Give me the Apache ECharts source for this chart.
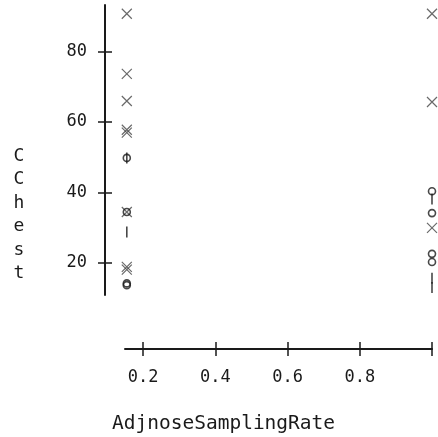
<!DOCTYPE html>
<html>
<head>
<meta charset="utf-8">
<script src="https://cdn.jsdelivr.net/npm/echarts@6/dist/echarts.min.js"></script>
<style>html,body{margin:0;padding:0;background:#fff}#c{width:438px;height:437px}</style>
</head>
<body>
<div id="c"></div>
<script>
// Marker positions (x = AdjnoseSamplingRate, y = CChest)
const crossX = [0.155, 0.155, 0.155, 0.155, 0.155, 0.155, 0.155, 0.155, 1.0, 1.0, 1.0];
const crossY = [90.8, 73.7, 66.0, 57.8, 57.0, 34.4, 18.8, 18.0, 90.8, 65.7, 29.9];
const circleX = [0.155, 0.155, 0.155, 0.155, 1.0, 1.0, 1.0, 1.0];
const circleY = [49.8, 34.4, 14.1, 13.6, 40.3, 34.1, 22.5, 20.2];
const barX = [0.155, 0.155, 1.0, 1.0, 1.0];
const barY = [49.8, 28.7, 38.1, 15.6, 12.9];
const xTicks = [0.2, 0.4, 0.6, 0.8, 1.0];
const xTickLabels = [0.2, 0.4, 0.6, 0.8];
const yTicks = [20, 40, 60, 80];
const xName = 'AdjnoseSamplingRate';
const yName = 'CChest';

const zip = (a, b) => a.map((v, i) => [v, b[i]]);
const INK = '#1a1a1a';
const MONO = '"DejaVu Sans Mono", "Liberation Mono", monospace';

const xRange = { min: 0.15, max: 1.0 };
const yRange = { min: 10.8, max: 93.3 };

function xAx(inside, main) {
  return {
    type: 'value', position: 'bottom', offset: 54, ...xRange,
    axisLine: { show: main, lineStyle: { color: INK, width: 2 } },
    axisTick: { show: true, inside: inside, length: 7, customValues: xTicks, lineStyle: { color: INK, width: 1.5 } },
    axisLabel: { show: main, customValues: xTickLabels, margin: 20, color: INK, fontFamily: MONO, fontSize: 17,
      formatter: v => v.toFixed(1) },
    splitLine: { show: false }
  };
}
function yAx(inside, main) {
  return {
    type: 'value', position: 'left', offset: 20, ...yRange,
    axisLine: { show: main, lineStyle: { color: INK, width: 2 } },
    axisTick: { show: true, inside: inside, length: 7, customValues: yTicks, lineStyle: { color: INK, width: 1.5 } },
    axisLabel: { show: main, customValues: yTicks, margin: 18, color: INK, fontFamily: MONO, fontSize: 17 },
    splitLine: { show: false }
  };
}

const chart = echarts.init(document.getElementById('c'), null, { renderer: 'canvas' });
chart.setOption({
  animation: false,
  backgroundColor: '#fff',
  grid: { left: 125, right: 6, top: 5, bottom: 142, containLabel: false },
  xAxis: [xAx(false, true), xAx(true, false)],
  yAxis: [yAx(false, true), yAx(true, false)],
  series: [
    {
      type: 'scatter', name: 'x', data: zip(crossX, crossY),
      symbol: 'path://M0,0L10,10M10,0L0,10', symbolSize: 10,
      itemStyle: { color: 'none', borderColor: '#444', borderWidth: 1.2 }
    },
    {
      type: 'scatter', name: 'o', data: zip(circleX, circleY),
      symbol: 'circle', symbolSize: 7,
      itemStyle: { color: 'none', borderColor: '#1a1a1a', borderWidth: 1.6 }
    },
    {
      type: 'scatter', name: '|', data: zip(barX, barY),
      symbol: 'rect', symbolSize: [1.6, 11],
      itemStyle: { color: '#1a1a1a' }
    }
  ],
  graphic: [
    { type: 'text', left: 112, top: 414, style: { text: xName, font: '19.5px ' + MONO, fill: INK } },
    { type: 'text', x: 19, y: 215, style: { text: yName.split('').join('\n'), font: '18px ' + MONO, fill: INK,
      align: 'center', verticalAlign: 'middle', lineHeight: 23.5 } }
  ]
});
</script>
</body>
</html>
